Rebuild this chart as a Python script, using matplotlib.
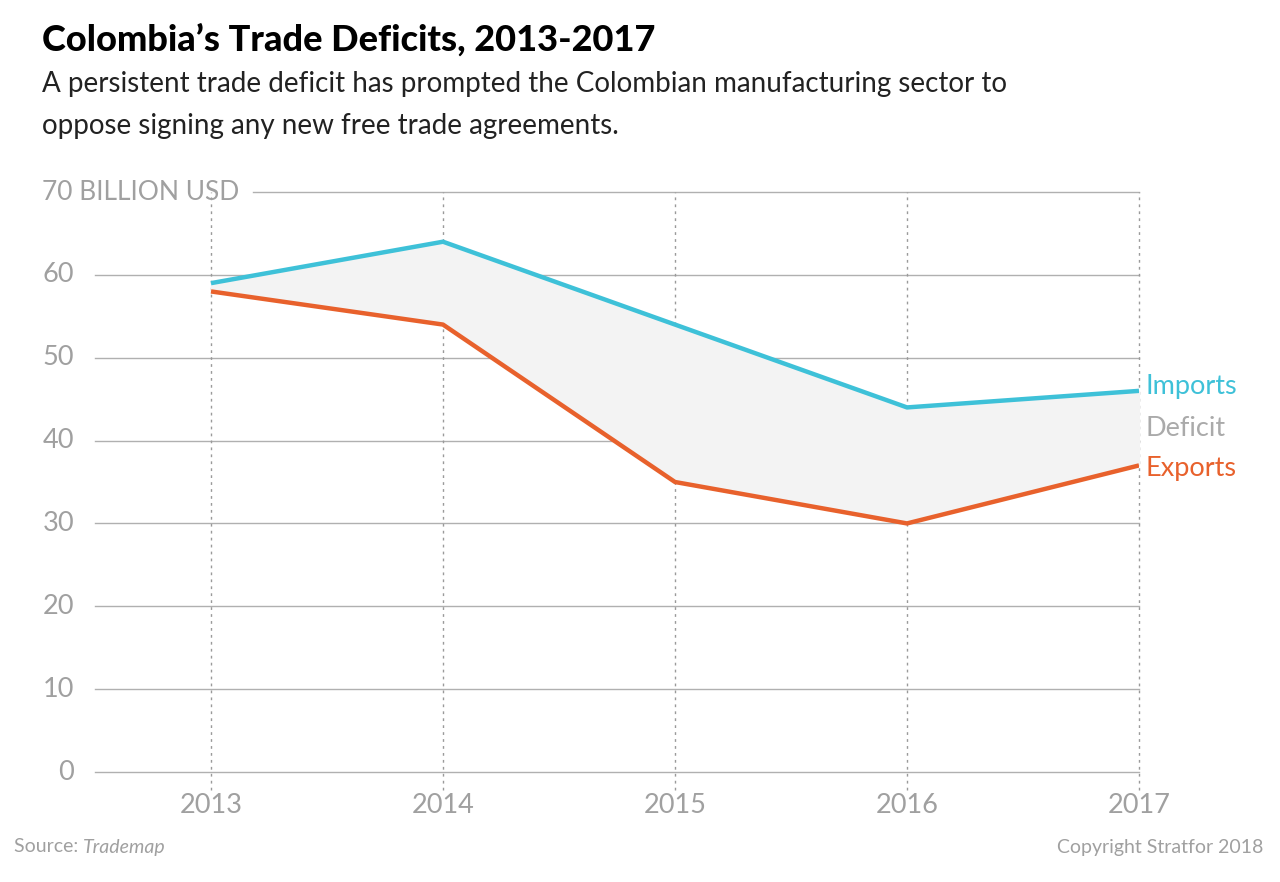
import matplotlib
matplotlib.use("Agg")
import matplotlib.pyplot as plt

years = [2013, 2014, 2015, 2016, 2017]
imports = [59, 64, 54, 44, 46]
exports = [58, 54, 35, 30, 37]
yticks = [0, 10, 20, 30, 40, 50, 60, 70]

plt.rcParams['font.family'] = ['Lato', 'DejaVu Sans']

grey = '#a0a0a0'
blue = '#3ec1d8'
orange = '#e8612c'

fig = plt.figure(figsize=(12.8, 8.82), dpi=100)
ax = fig.add_axes([95/1280, 110/882, 1044/1280, 580/882])
ax.set_xlim(2012.5, 2017)
ax.set_ylim(0, 70)
ax.axis('off')

# horizontal grid
for v in yticks:
    x0 = 2012.5 if v != 70 else 2013.18
    ax.plot([x0, 2017], [v, v], color='#b0b0b0', lw=1, zorder=1, clip_on=False)
    if v == 70:
        fig.text(42/1280, 110/882 + 580/882, '70 BILLION USD', ha='left', va='center',
                 fontsize=19, color=grey)
    else:
        ax.text(2012.41, v, str(v), ha='right', va='center', fontsize=19.5,
                color=grey)

# vertical dashed lines
for y in years:
    ax.plot([y, y], [-2.2, 70], color='#9a9a9a', lw=1, ls=(0, (2, 3)),
            zorder=1, clip_on=False)
    ax.text(y, -4.0, str(y), ha='center', va='center', fontsize=19.5,
            color=grey)

ax.fill_between(years, exports, imports, color='#f3f3f3', zorder=2)
ax.plot(years, imports, color=blue, lw=3.2, zorder=3, solid_capstyle='butt')
ax.plot(years, exports, color=orange, lw=3.2, zorder=3, solid_capstyle='butt')

ax.text(2017.03, imports[-1] + 0.55, 'Imports', color=blue, fontsize=19.5,
        va='center', ha='left')
ax.text(2017.03, (imports[-1] + exports[-1]) / 2 - 0.05, 'Deficit', color='#aaaaaa',
        fontsize=19.5, va='center', ha='left')
ax.text(2017.03, exports[-1] - 0.4, 'Exports', color=orange, fontsize=19.5,
        va='center', ha='left')

fig.text(42/1280, 1 - 40/882, "Colombia’s Trade Deficits, 2013-2017",
         fontsize=26, fontweight='black', va='center', ha='left', color='black')
fig.text(42/1280, 1 - 84/882,
         "A persistent trade deficit has prompted the Colombian manufacturing sector to",
         fontsize=20, va='center', ha='left', color='#222222')
fig.text(42/1280, 1 - 126/882, "oppose signing any new free trade agreements.",
         fontsize=20, va='center', ha='left', color='#222222')

fig.text(14/1280, 1 - 847/882, "Source: ", fontsize=14, color='#a0a0a0',
         va='center', ha='left')
fig.text(83/1280, 1 - 847/882, "Trademap", fontsize=14, color='#a0a0a0',
         va='center', ha='left', style='italic')
fig.text(1263/1280, 1 - 847/882, "Copyright Stratfor 2018", fontsize=14,
         color='#a0a0a0', va='center', ha='right')

fig.savefig('out.png', dpi=100, facecolor='white')
